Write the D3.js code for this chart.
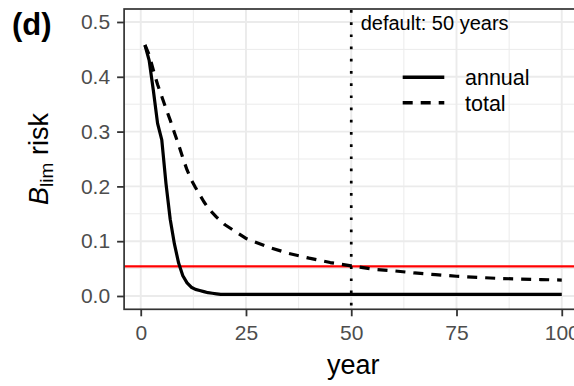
<!DOCTYPE html>
<html>
<head>
<meta charset="utf-8">
<script src="https://cdn.jsdelivr.net/npm/d3@7"></script>
<style>
body{margin:0;background:#fff;}
text{font-family:"Liberation Sans", Arial, sans-serif;}
</style>
</head>
<body>
<div id="chart"></div>
<script>
/* data */
var years = [1,2,3,4,5,6,7,8,9,10,11,12,13,14,15,16,17,18,19,20,
             25,30,35,40,45,50,55,60,65,70,75,80,85,90,95,100];
var annual = [0.458,0.43,0.375,0.315,0.285,0.205,0.14,0.095,0.06,0.037,
              0.024,0.016,0.012,0.010,0.008,0.006,0.005,0.004,0.003,0.003,
              0.003,0.003,0.003,0.003,0.003,0.003,0.003,0.003,0.003,0.003,
              0.003,0.003,0.003,0.003,0.003,0.003];
var total = [0.458,0.44,0.412,0.386,0.364,0.342,0.321,0.298,0.276,0.252,
             0.23,0.212,0.198,0.185,0.172,0.161,0.152,0.144,0.137,0.13,
             0.105,0.090,0.078,0.069,0.061,0.055,0.049,0.046,0.042,0.039,
             0.036,0.034,0.032,0.031,0.030,0.029];
var seriesNames = ["annual","total"];
var xTicks = [0,25,50,75,100];
var xMinor = [12.5,37.5,62.5,87.5];
var yTicks = [0,0.1,0.2,0.3,0.4,0.5];
var yMinor = [0.05,0.15,0.25,0.35,0.45];
var threshold = 0.054;
var defaultYear = 50;

var svg = d3.select("#chart").append("svg")
  .attr("width",574)
  .attr("height",386);

var pLeft = 124.1, pRight = 582.6, pTop = 9, pBottom = 309.3;

var x = d3.scaleLinear().domain([-3.95,104.95]).range([pLeft,pRight]);
var y = d3.scaleLinear().domain([-0.0243,0.5237]).range([pBottom,pTop]);

var dashes = {"annual":null, "total":"10,8"};
var seriesData = {"annual":annual, "total":total};

/* panel + grid */
svg.append("rect")
  .attr("x",pLeft).attr("y",pTop)
  .attr("width",pRight-pLeft).attr("height",pBottom-pTop)
  .attr("fill","#fff");

var grid = svg.append("g");
grid.selectAll("line.xmin").data(xMinor).enter().append("line")
  .attr("x1",function(d){return x(d);}).attr("x2",function(d){return x(d);})
  .attr("y1",pTop).attr("y2",pBottom)
  .attr("stroke","#EBEBEB").attr("stroke-width",1);
grid.selectAll("line.ymin").data(yMinor).enter().append("line")
  .attr("y1",function(d){return y(d);}).attr("y2",function(d){return y(d);})
  .attr("x1",pLeft).attr("x2",pRight)
  .attr("stroke","#EBEBEB").attr("stroke-width",1);
grid.selectAll("line.xmaj").data(xTicks).enter().append("line")
  .attr("x1",function(d){return x(d);}).attr("x2",function(d){return x(d);})
  .attr("y1",pTop).attr("y2",pBottom)
  .attr("stroke","#EBEBEB").attr("stroke-width",1.9);
grid.selectAll("line.ymaj").data(yTicks).enter().append("line")
  .attr("y1",function(d){return y(d);}).attr("y2",function(d){return y(d);})
  .attr("x1",pLeft).attr("x2",pRight)
  .attr("stroke","#EBEBEB").attr("stroke-width",1.9);

/* threshold + default year */
svg.append("line")
  .attr("x1",pLeft).attr("x2",pRight)
  .attr("y1",y(threshold)).attr("y2",y(threshold))
  .attr("stroke","#FF0000").attr("stroke-width",2.4);

svg.append("line")
  .attr("x1",x(defaultYear)).attr("x2",x(defaultYear))
  .attr("y1",pTop+1).attr("y2",pBottom)
  .attr("stroke","#000").attr("stroke-width",2.7)
  .attr("stroke-dasharray","2.7,9.5");

svg.append("text")
  .attr("x",360.7).attr("y",30)
  .attr("font-size",20)
  .text("default: " + defaultYear + " years");

/* lines */
var line = d3.line()
  .x(function(d,i){return x(years[i]);})
  .y(function(d){return y(d);});

seriesNames.forEach(function(name){
  svg.append("path")
    .attr("d",line(seriesData[name]))
    .attr("fill","none")
    .attr("stroke","#000")
    .attr("stroke-width",3.2)
    .attr("stroke-linejoin","round")
    .attr("stroke-dasharray",dashes[name]);
});

/* border */
svg.append("rect")
  .attr("x",pLeft).attr("y",pTop)
  .attr("width",pRight-pLeft).attr("height",pBottom-pTop)
  .attr("fill","none").attr("stroke","#333").attr("stroke-width",1.7);

/* axes */
var yAxis = svg.append("g")
  .attr("transform","translate("+pLeft+",0)")
  .call(d3.axisLeft(y).tickValues(yTicks).tickFormat(d3.format(".1f")).tickSize(7).tickPadding(7));
var xAxis = svg.append("g")
  .attr("transform","translate(0,"+pBottom+")")
  .call(d3.axisBottom(x).tickValues(xTicks).tickSize(7).tickPadding(8.7));

[xAxis,yAxis].forEach(function(a){
  a.select(".domain").remove();
  a.selectAll(".tick line").attr("stroke","#333").attr("stroke-width",1.8);
  a.selectAll(".tick text").attr("fill","#4D4D4D").attr("font-size",21)
    .style("font-family","'Liberation Sans', Arial, sans-serif");
});

/* titles */
svg.append("text")
  .attr("x",(pLeft+pRight)/2).attr("y",374)
  .attr("text-anchor","middle")
  .attr("font-size",27)
  .text("year");

var yt = svg.append("text")
  .attr("transform","translate(48,159) rotate(-90)")
  .attr("text-anchor","middle")
  .attr("font-size",27);
yt.append("tspan").attr("font-style","italic").text("B");
yt.append("tspan").attr("font-size",19).attr("dy",5).text("lim");
yt.append("tspan").attr("dy",-5).text(" risk");

svg.append("text")
  .attr("x",12).attr("y",35)
  .attr("font-size",31)
  .attr("font-weight","bold")
  .text("(d)");

/* legend */
var legend = svg.selectAll("g.legend")
  .data(seriesNames)
  .enter().append("g")
  .attr("transform",function(d,i){return "translate(0,"+(77.3+i*25.4)+")";});
legend.append("line")
  .attr("x1",402.7).attr("x2",444.3)
  .attr("stroke","#000").attr("stroke-width",3.4)
  .attr("stroke-dasharray",function(d){return dashes[d];});
legend.append("text")
  .attr("x",465).attr("y",8)
  .attr("font-size",21.5)
  .text(function(d){return d;});
</script>
</body>
</html>
